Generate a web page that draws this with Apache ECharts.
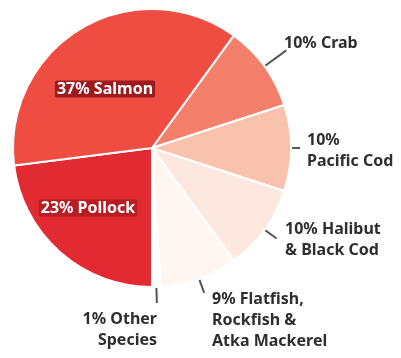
<!DOCTYPE html>
<html><head><meta charset="utf-8">
<script src="https://cdn.jsdelivr.net/npm/echarts@6/dist/echarts.min.js"></script>
<style>html,body{margin:0;padding:0;background:#fff}#c{width:401px;height:358px}</style>
</head><body><div id="c"></div>
<script>
const categories = ['Crab', 'Pacific Cod', 'Halibut & Black Cod', 'Flatfish, Rockfish & Atka Mackerel', 'Other Species', 'Pollock', 'Salmon'];
const shares = [10, 10, 10, 9, 1, 23, 37];
const labelTexts = ['10% Crab', '10%\nPacific Cod', '10% Halibut\n& Black Cod', '9% Flatfish,\nRockfish &\nAtka Mackerel', '1% Other\nSpecies', '23% Pollock', '37% Salmon'];
const colors = ['#f47f6b', '#f8c2ad', '#fde8df', '#fff6f2', '#ffffff', '#e12a31', '#ef4c42'];
const insideNames = ['Pollock', 'Salmon'];

const center = [152, 148];
const labelPlace = {
  'Crab': {x: 284, y: 43, align: 'left', r: [128, 166]},
  'Pacific Cod': {x: 307, y: 151, align: 'left', r: [116, 148]},
  'Halibut & Black Cod': {x: 285, y: 240, align: 'left', r: [121, 154]},
  'Flatfish, Rockfish & Atka Mackerel': {x: 212, y: 320, align: 'left', r: [126, 154]},
  'Other Species': {x: 157, y: 330, align: 'right', r: [129, 155]},
  'Pollock': {x: 88, y: 208, align: 'center'},
  'Salmon': {x: 105, y: 89, align: 'center'}
};

const data = categories.map((name, i) => {
  const inside = insideNames.includes(name);
  return {
    name: name,
    value: shares[i],
    itemStyle: {color: colors[i]},
    label: inside ? {
      position: 'inside', color: '#ffffff', fontSize: 16, fontWeight: 'bold',
      backgroundColor: name === 'Salmon' ? '#9c1b1f' : '#b81c24',
      padding: [1, 2, 0, 2], borderRadius: 2
    } : {
      position: 'outside', color: '#2e2e2e', fontSize: 16, fontWeight: 'bold',
      lineHeight: 21, align: labelPlace[name].align
    },
    labelLine: {show: !inside}
  };
});

const chart = echarts.init(document.getElementById('c'));
chart.setOption({
  animation: false,
  series: [{
    type: 'pie',
    center: center,
    radius: 139,
    startAngle: 54,
    clockwise: true,
    avoidLabelOverlap: false,
    itemStyle: {borderColor: '#ffffff', borderWidth: 2},
    label: {
      fontFamily: 'Noto Sans',
      formatter: p => labelTexts[p.dataIndex]
    },
    labelLine: {lineStyle: {color: '#555555', width: 2}, length: 10, length2: 0},
    labelLayout: function (p) {
      const L = labelPlace[categories[p.dataIndex]];
      const res = {x: L.x, y: L.y, align: L.align, verticalAlign: 'middle'};
      if (L.r && p.labelLinePoints) {
        const p0 = p.labelLinePoints[0];
        const dx = p0[0] - center[0], dy = p0[1] - center[1];
        const d = Math.hypot(dx, dy);
        const a = [center[0] + dx / d * L.r[0], center[1] + dy / d * L.r[0]];
        const b = [center[0] + dx / d * L.r[1], center[1] + dy / d * L.r[1]];
        res.labelLinePoints = [a, b, b];
      }
      return res;
    },
    data: data
  }]
});
</script>
</body></html>
